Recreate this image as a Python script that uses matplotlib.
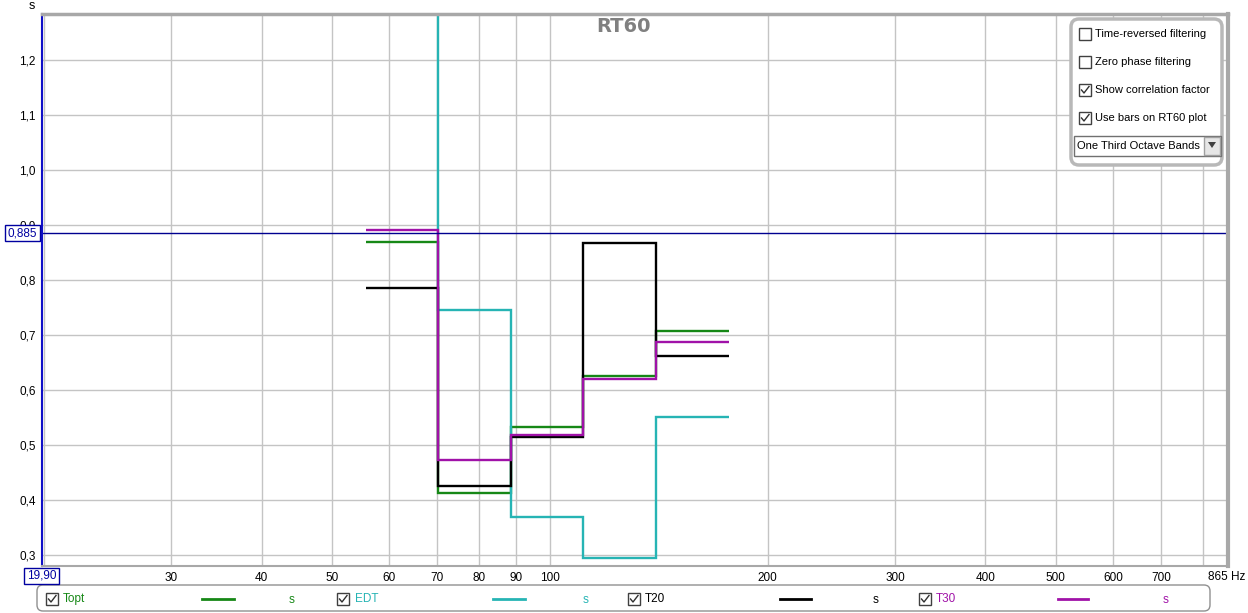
import matplotlib.pyplot as plt
import numpy as np
from matplotlib.patches import Rectangle, FancyBboxPatch, Polygon

plt.rcParams['font.family'] = ['Liberation Sans', 'DejaVu Sans']

W, H = 1248, 613

# 1/3 octave bands (nominal Hz) and decay times in seconds
bands_hz = [63, 80, 100, 125, 160]
topt = [0.869, 0.413, 0.533, 0.625, 0.707]
edt = [1.45, 0.745, 0.369, 0.295, 0.550]   # 63 Hz value is off the top of the plot
t20 = [0.786, 0.426, 0.514, 0.867, 0.661]
t30 = [0.890, 0.473, 0.518, 0.620, 0.688]

series_names = ['Topt', 'EDT', 'T20', 'T30']
series_vals = [topt, edt, t20, t30]
series_colors = ['#168816', '#26b4b4', '#000000', '#a012a8']

ytick_vals = [0.3, 0.4, 0.5, 0.6, 0.7, 0.8, 0.9, 1.0, 1.1, 1.2]
ytick_labels = ['0,3', '0,4', '0,5', '0,6', '0,7', '0,8', '0,9', '1,0', '1,1', '1,2']
xgrid_vals = [20, 30, 40, 50, 60, 70, 80, 90, 100, 200, 300, 400, 500, 600, 700, 800]
xgrid_labels = ['', '30', '40', '50', '60', '70', '80', '90', '100',
                '200', '300', '400', '500', '600', '700', '']

cursor_x = 19.90
cursor_y = 0.885

options = ['Time-reversed filtering', 'Zero phase filtering',
           'Show correlation factor', 'Use bars on RT60 plot']
options_checked = [False, False, True, True]
band_mode = 'One Third Octave Bands'

# exact band centres (base-2, relative to 1 kHz) and band edges
centers = 1000 * 2 ** (np.round(3 * np.log2(np.array(bands_hz) / 1000)) / 3)
edges = np.append(centers * 2 ** (-1 / 6), centers[-1] * 2 ** (1 / 6))

fig = plt.figure(figsize=(W / 100, H / 100), dpi=100)
ax = fig.add_axes([42 / W, 1 - 566 / H, (1228 - 42) / W, (566 - 14) / H])
ax.set_xscale('log')
ax.set_xlim(19.9, 865)
ax.set_ylim(0.28, 1.2836)
ax.set_xticks(xgrid_vals, xgrid_labels)
ax.minorticks_off()
ax.set_yticks(ytick_vals, ytick_labels)
ax.grid(True, color='#c4c4c4', lw=1)
ax.set_axisbelow(True)
ax.tick_params(length=0, labelsize=8.5, pad=4.5)

for s in ['top', 'bottom']:
    ax.spines[s].set_color('#a8a8a8')
ax.spines['top'].set_linewidth(2.5)
ax.spines['bottom'].set_linewidth(1.5)
ax.spines['right'].set_color('#a8a8a8')
ax.spines['right'].set_linewidth(3)
ax.spines['left'].set_color('#1010c8')
ax.spines['left'].set_linewidth(1.5)

for vals, col in zip(series_vals, series_colors):
    ax.stairs(vals, edges, baseline=None, color=col, lw=1.7)

ax.axhline(cursor_y, color='#000090', lw=1)

# overlay in pixel coordinates for the REW-style widgets
ov = fig.add_axes([0, 0, 1, 1])
ov.set_xlim(0, W)
ov.set_ylim(H, 0)
ov.axis('off')

def to_px(x, y):
    fx, fy = ax.transData.transform((x, y))
    return fx, H - fy

def checkbox(x, y, checked):
    ov.add_patch(Rectangle((x, y), 12, 12, fc='white', ec='#404040', lw=1))
    if checked:
        ov.plot([x + 2.5, x + 5, x + 10], [y + 6, y + 9, y + 2.5], color='#303030', lw=1)

ov.text(32, 6, 's', ha='center', va='center', fontsize=9)
ov.text(624, 26, 'RT60', ha='center', va='center', fontsize=14,
        fontweight='bold', color='#808080', family='DejaVu Sans')
ov.text(1208, 577, '865 Hz', ha='left', va='center', fontsize=8.5)

# cursor readouts
_, cy = to_px(100, cursor_y)
ov.add_patch(Rectangle((5, cy - 8), 35, 16, fc='white', ec='#0000a0', lw=1, zorder=5))
ov.text(22.5, cy, '0,885', ha='center', va='center', fontsize=8.5, color='#0000a0', zorder=6)
cx, _ = to_px(cursor_x, 1.0)
ov.add_patch(Rectangle((cx - 18, 568), 35, 16, fc='white', ec='#0000a0', lw=1, zorder=5))
ov.text(cx - 0.5, 576, '19,90', ha='center', va='center', fontsize=8.5, color='#0000a0', zorder=6)

# bottom legend
ov.add_patch(FancyBboxPatch((37, 585), 1173, 26, boxstyle='round,pad=0,rounding_size=6',
                            fc='white', ec='#909090', lw=1))
box_x = [46, 337, 628, 919]
label_x = [63, 355, 645, 936]
line_x = [(202, 234), (493, 525), (780, 811), (1058, 1088)]
unit_x = [292, 586, 876, 1166]
for i, (name, col) in enumerate(zip(series_names, series_colors)):
    checkbox(box_x[i], 593, True)
    ov.text(label_x[i], 599, name, ha='left', va='center', fontsize=8.5, color=col)
    ov.plot(line_x[i], [599, 599], color=col, lw=2)
    ov.text(unit_x[i], 600, 's', ha='center', va='center', fontsize=8.5, color=col)

# options panel
ov.add_patch(FancyBboxPatch((1071, 19), 151, 146, boxstyle='round,pad=0,rounding_size=8',
                            fc='white', ec='#b8b8b8', lw=2.5))
for i, (txt, chk) in enumerate(zip(options, options_checked)):
    y = 28 + 28 * i
    checkbox(1079, y, chk)
    ov.text(1095, y + 6, txt, ha='left', va='center', fontsize=8)
ov.add_patch(Rectangle((1074, 136), 147, 20, fc='white', ec='#707070', lw=1))
ov.add_patch(Rectangle((1204, 137), 16, 18, fc='#e6e6e6', ec='#a0a0a0', lw=1))
ov.add_patch(Polygon([[1208, 142], [1216, 142], [1212, 148]], closed=True, fc='#404040', ec='none'))
ov.text(1077, 146, band_mode, ha='left', va='center', fontsize=8)

fig.savefig('out.png', dpi=100)
